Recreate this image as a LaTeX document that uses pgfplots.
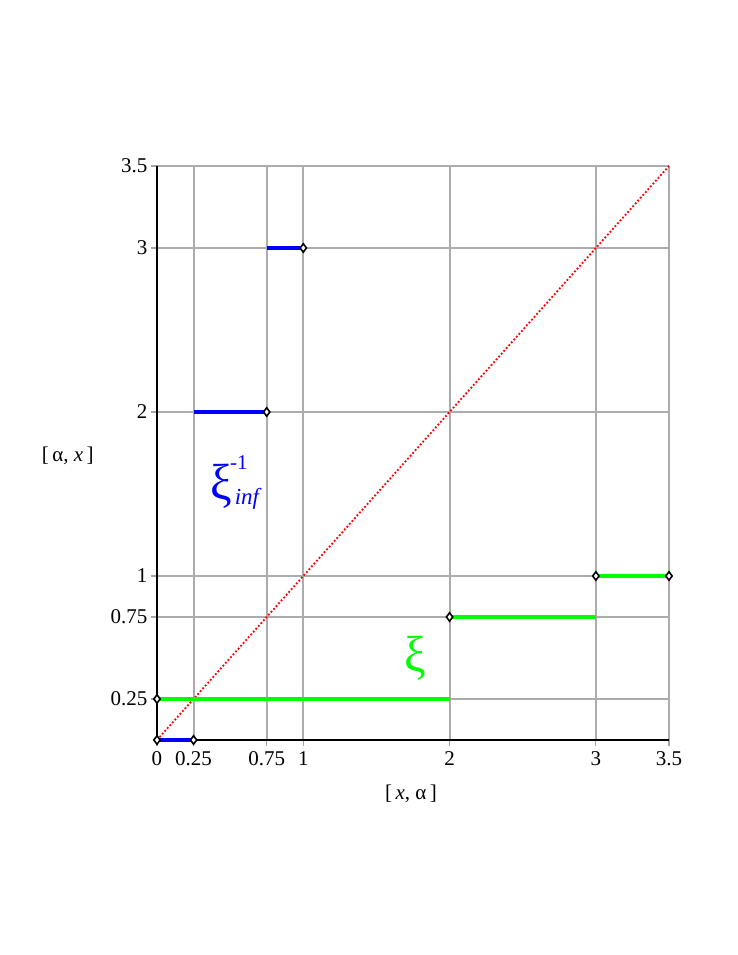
\documentclass[border=0pt]{standalone}
\usepackage{fontspec}
\setmainfont{Liberation Serif}
\usepackage{pgfplots}
\pgfplotsset{compat=1.18}
\definecolor{mgreen}{RGB}{0,255,0}
\definecolor{mblue}{RGB}{0,0,255}
\begin{document}
\begin{tikzpicture}[x=1pt,y=1pt]
\path[use as bounding box] (-157,-215) rectangle (581,740);
\begin{axis}[
  at={(0,0)}, anchor=south west,
  scale only axis, width=512pt, height=574pt,
  xmin=0, xmax=3.5, ymin=0, ymax=3.5,
  axis x line=bottom, axis y line=left,
  axis line style={black, line width=2pt, -},
  xtick={0,0.25,0.75,1,2,3,3.5},
  ytick={0.25,0.75,1,2,3,3.5},
  xticklabels={0,0.25,0.75,1,2,3,3.5},
  yticklabels={0.25,0.75,1,2,3,3.5},
  tick align=outside, major tick length=6pt,
  tick style={gray!70, line width=1.2pt},
  grid=major, major grid style={gray!65, line width=2pt},
  /pgf/number format/assume math mode=true,
  tick label style={font=\fontsize{21}{23}\selectfont},
  xticklabel style={yshift=-2pt},
  clip=false,
]
\addplot[red, dotted, line width=1.8pt] coordinates {(0,0) (3.5,3.5)};
\addplot[mgreen, line width=4pt] coordinates {(0,0.25) (2,0.25)};
\addplot[mgreen, line width=4pt] coordinates {(2,0.75) (3,0.75)};
\addplot[mgreen, line width=4pt] coordinates {(3,1) (3.5,1)};
\addplot[mblue, line width=4pt] coordinates {(0,0) (0.25,0)};
\addplot[mblue, line width=4pt] coordinates {(0.25,2) (0.75,2)};
\addplot[mblue, line width=4pt] coordinates {(0.75,3) (1,3)};
\addplot[only marks, mark=diamond*, mark size=4.2pt, mark options={draw=black, fill=white, line width=1.6pt}]
  coordinates {(0,0) (0.25,0) (0.75,2) (1,3) (0,0.25) (2,0.75) (3,1) (3.5,1)};
\node[mblue, font=\fontsize{44}{48}\selectfont] at (axis cs:0.437,1.55) {\scalebox{1.1}[1.15]{ξ}};
\node[mblue, font=\fontsize{21}{23}\selectfont] at (axis cs:0.56,1.69) {-1};
\node[mblue, font=\fontsize{23}{25}\selectfont\itshape] at (axis cs:0.615,1.47) {inf};
\node[mgreen, font=\fontsize{44}{48}\selectfont] at (axis cs:1.763,0.50) {\scalebox{1.1}[1.15]{ξ}};
\node[font=\fontsize{21}{23}\selectfont] at (axis cs:-0.61,1.73) {[\,α, \textit{x}\,]};
\node[font=\fontsize{21}{23}\selectfont] at (axis cs:1.736,-0.33) {[\,\textit{x}, α\,]};
\end{axis}
\end{tikzpicture}
\end{document}
